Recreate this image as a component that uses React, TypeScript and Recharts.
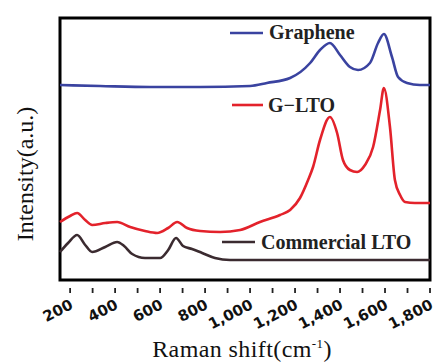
import React from 'react';
import { LineChart, Line, XAxis, YAxis, ReferenceArea } from 'recharts';

// Raman shift (cm-1) / intensity (arbitrary, offset stacked)
const grapheneShift = [155, 333, 556, 778, 1000, 1075, 1178, 1267, 1311, 1355, 1400, 1444, 1480, 1533, 1569, 1595, 1631, 1658, 1698, 1755, 1800];
const grapheneInt = [215, 214, 213, 213, 214, 217, 222, 237, 250, 257, 245, 233, 230, 237, 257, 266, 243, 223, 217, 215, 215];

const gltoShift = [155, 200, 231, 267, 298, 356, 409, 467, 533, 587, 636, 676, 720, 778, 867, 956, 1044, 1133, 1178, 1222, 1258, 1280, 1311, 1355, 1387, 1413, 1444, 1476, 1511, 1547, 1578, 1595, 1622, 1644, 1667, 1689, 1733, 1800];
const gltoInt = [78, 84, 87, 80, 75, 77, 78, 73, 69, 67, 72, 78, 72, 69, 68, 70, 78, 85, 90, 102, 120, 133, 160, 183, 167, 140, 130, 128, 135, 153, 190, 212, 173, 120, 105, 98, 97, 97];

const ltoShift = [155, 191, 231, 267, 298, 356, 409, 440, 476, 533, 600, 636, 671, 702, 742, 787, 844, 911, 1222, 1800];
const ltoInt = [48, 57, 65, 55, 48, 53, 58, 54, 46, 42, 42, 50, 62, 54, 51, 47, 42, 40, 40, 40];

const xTicks = [200, 300, 400, 500, 600, 700, 800, 900, 1000, 1100, 1200, 1300, 1400, 1500, 1600, 1700, 1800];

const toRows = (xs: number[], ys: number[]) => xs.map((x, i) => ({ x, y: ys[i] }));

const graphene = toRows(grapheneShift, grapheneInt);
const glto = toRows(gltoShift, gltoInt);
const lto = toRows(ltoShift, ltoInt);

const BLUE = '#3a43a0';
const RED = '#e3222b';
const DARK = '#3b2b30';

const serifStyle = { fontFamily: "'Liberation Serif', 'Times New Roman', serif" };

// small outward tick marks at every 100, labels at every 200
const XTick = (props: any) => {
  const { x, y, payload } = props;
  const mark = <line x1={x} x2={x} y1={y + 2} y2={y + 7} stroke="#222" strokeWidth={1.8} />;
  if (payload.value % 200 !== 0) return mark;
  const ax = x + 4;
  const ay = y + 22;
  return (
    <g>
      {mark}
      <text
        x={ax}
        y={ay}
        transform={`rotate(-27, ${ax}, ${ay})`}
        textAnchor="end"
        style={{ fontFamily: "'DejaVu Sans', sans-serif", fontWeight: 'bold' }}
        fontSize={15}
        fill="#111"
      >
        {payload.value.toLocaleString('en-US')}
      </text>
    </g>
  );
};

export default function App() {
  return (
    <div style={{ position: 'absolute', left: 0, top: 0, width: 446, height: 362, background: '#fff' }}>
      <LineChart width={446} height={362} margin={{ top: 18, right: 16, bottom: 22, left: 60 }}>
        <XAxis
          dataKey="x"
          type="number"
          domain={[155, 1800]}
          ticks={xTicks}
          interval={0}
          height={60}
          axisLine={false}
          tickLine={false}
          tickMargin={0}
          tick={<XTick />}
        />
        <YAxis type="number" domain={[20, 282]} hide />
        <ReferenceArea x1={155} x2={1800} y1={20} y2={282} fill="none" fillOpacity={0} stroke="#000" strokeWidth={3} ifOverflow="visible" />
        <Line data={graphene} dataKey="y" type="monotone" stroke={BLUE} strokeWidth={2.6} dot={false} isAnimationActive={false} />
        <Line data={glto} dataKey="y" type="monotone" stroke={RED} strokeWidth={2.6} dot={false} isAnimationActive={false} />
        <Line data={lto} dataKey="y" type="monotone" stroke={DARK} strokeWidth={2.6} dot={false} isAnimationActive={false} />
      </LineChart>
      <svg width={446} height={362} style={{ position: 'absolute', left: 0, top: 0, pointerEvents: 'none' }}>
        <line x1={230} x2={263} y1={33} y2={33} stroke={BLUE} strokeWidth={2.6} />
        <text x={269} y={39} style={{ ...serifStyle, fontWeight: 'bold' }} fontSize={20} fill="#222">Graphene</text>
        <line x1={232} x2={263} y1={105} y2={105} stroke={RED} strokeWidth={2.6} />
        <text x={268} y={112} style={{ ...serifStyle, fontWeight: 'bold' }} fontSize={20} fill="#222">G−LTO</text>
        <line x1={222} x2={255} y1={242} y2={242} stroke={DARK} strokeWidth={2.6} />
        <text x={261} y={249} style={{ ...serifStyle, fontWeight: 'bold' }} fontSize={20} fill="#222">Commercial LTO</text>
        <text x={242} y={357} textAnchor="middle" style={{ ...serifStyle, letterSpacing: 0.4 }} fontSize={24} fill="#111">
          Raman shift(cm<tspan fontSize={13} dy={-9}>-1</tspan><tspan dy={9}>)</tspan>
        </text>
        <text x={33} y={174} textAnchor="middle" transform="rotate(-90, 33, 174)" style={serifStyle} fontSize={24} fill="#111">
          Intensity(a.u.)
        </text>
      </svg>
    </div>
  );
}
